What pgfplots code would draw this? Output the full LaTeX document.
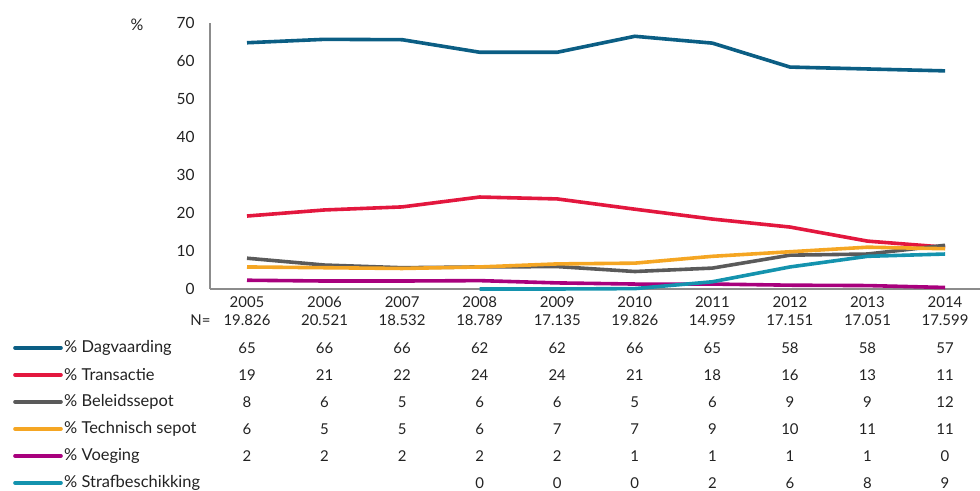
\documentclass[border=0pt]{standalone}
\usepackage{fontspec}
\setmainfont{Lato}
\usepackage{pgfplots}
\pgfplotsset{compat=1.18}
\definecolor{cDag}{HTML}{0B5E84}
\definecolor{cTra}{HTML}{E3173E}
\definecolor{cBel}{HTML}{5A5A5A}
\definecolor{cTec}{HTML}{F5A623}
\definecolor{cVoe}{HTML}{A8007D}
\definecolor{cStr}{HTML}{1493AE}
\definecolor{txt}{HTML}{222222}
\begin{document}
\begin{tikzpicture}[x=1bp,y=1bp,every node/.style={text=txt,font=\fontsize{15}{18}\selectfont}]
\path[use as bounding box] (0,0) rectangle (980,491);
\begin{axis}[at={(210bp,202bp)}, anchor=south west, scale only axis,
  width=770bp, height=266bp,
  xmin=-0.477, xmax=9.45, ymin=0, ymax=70,
  axis lines=left, axis line style={-, draw=black!45, line width=1.6bp},
  xtick={0,...,9}, xticklabels={}, ytick={0,10,...,70},
  major tick length=0pt,
  /pgf/number format/assume math mode=true,
  yticklabel style={font=\fontsize{15.5}{18}\selectfont, text=txt, xshift=-12bp},
  clip=false]
\addplot[cDag, line width=3.6bp] coordinates {(0,64.8) (1,65.7) (2,65.6) (3,62.3) (4,62.3) (5,66.5) (6,64.7) (7,58.4) (8,57.9) (9,57.4)};
\addplot[cTra, line width=3.6bp] coordinates {(0,19.2) (1,20.8) (2,21.6) (3,24.2) (4,23.7) (5,21.0) (6,18.4) (7,16.3) (8,12.6) (9,11.0)};
\addplot[cBel, line width=3.6bp] coordinates {(0,8.1) (1,6.3) (2,5.6) (3,5.8) (4,5.9) (5,4.6) (6,5.5) (7,8.9) (8,9.2) (9,11.5)};
\addplot[cTec, line width=3.6bp] coordinates {(0,5.8) (1,5.6) (2,5.4) (3,5.8) (4,6.6) (5,6.8) (6,8.6) (7,9.8) (8,11.0) (9,10.6)};
\addplot[cVoe, line width=3.6bp] coordinates {(0,2.3) (1,2.1) (2,2.1) (3,2.2) (4,1.6) (5,1.3) (6,1.3) (7,1.0) (8,0.9) (9,0.4)};
\addplot[cStr, line width=3.6bp] coordinates {(3,0) (4,0) (5,0.1) (6,1.9) (7,5.8) (8,8.6) (9,9.2)};
\end{axis}
\node[font=\fontsize{16}{18}\selectfont] at (137,466) {\%};
\node[anchor=east] at (214,171) {N=};
\foreach \v [count=\i from 0] in {2005,2006,2007,2008,2009,2010,2011,2012,2013,2014} {\node at ({247+77.56*\i},189) {\v};}
\foreach \v [count=\i from 0] in {19.826,20.521,18.532,18.789,17.135,19.826,14.959,17.151,17.051,17.599} {\node at ({247+77.56*\i},171) {\v};}
\foreach \v [count=\i from 0] in {65,66,66,62,62,66,65,58,58,57} {\node at ({247+77.56*\i},143) {\v};}
\foreach \v [count=\i from 0] in {19,21,22,24,24,21,18,16,13,11} {\node at ({247+77.56*\i},116) {\v};}
\foreach \v [count=\i from 0] in {8,6,5,6,6,5,6,9,9,12} {\node at ({247+77.56*\i},89) {\v};}
\foreach \v [count=\i from 0] in {6,5,5,6,7,7,9,10,11,11} {\node at ({247+77.56*\i},62) {\v};}
\foreach \v [count=\i from 0] in {2,2,2,2,2,1,1,1,1,0} {\node at ({247+77.56*\i},35) {\v};}
\foreach \v [count=\i from 3] in {0,0,0,2,6,8,9} {\node at ({247+77.56*\i},8) {\v};}
\foreach \c/\t/\y in {cDag/Dagvaarding/143, cTra/Transactie/116, cBel/Beleidssepot/89, cTec/Technisch sepot/62, cVoe/Voeging/35, cStr/Strafbeschikking/8} {
  \draw[\c, line width=3.6bp, line cap=round] (15,\y) -- (61,\y);
  \node[anchor=west, inner sep=1bp, font=\fontsize{16.5}{18}\selectfont] at (63,\y) {\% \t};
}
\end{tikzpicture}
\end{document}
